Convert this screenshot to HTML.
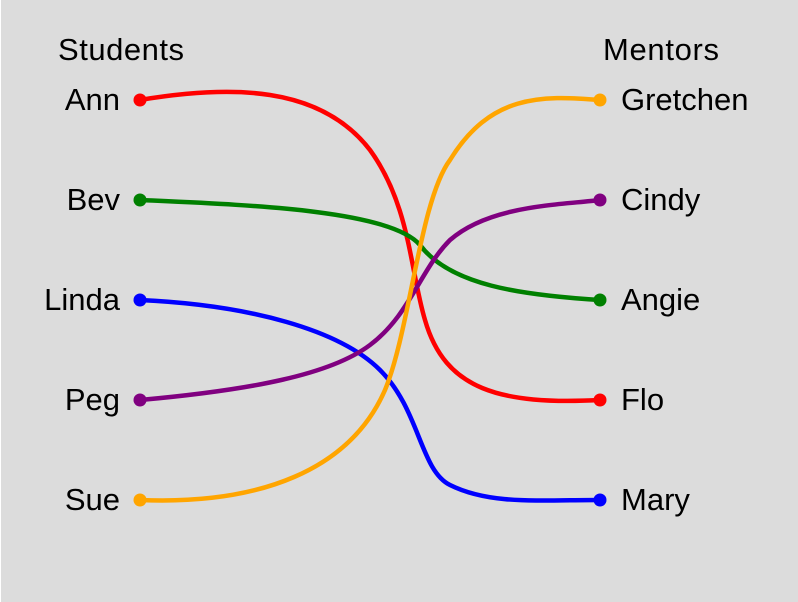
<!DOCTYPE html>
<html><head><style>
html,body{margin:0;padding:0;background:#fff;}
svg{display:block;}
text{font-family:"Liberation Sans",sans-serif;font-size:31px;fill:#000;}
</style></head><body>
<svg width="798" height="602" viewBox="0 0 798 602">
<rect x="1" y="0" width="797" height="602" fill="#dcdcdc"/>
<text x="58" y="60" textLength="126">Students</text>
<text x="603" y="60" textLength="116">Mentors</text>
<g text-anchor="end">
<text x="120" y="110">Ann</text>
<text x="120" y="210">Bev</text>
<text x="120" y="310">Linda</text>
<text x="120" y="410">Peg</text>
<text x="120" y="510">Sue</text>
</g>
<text x="621" y="110">Gretchen</text>
<text x="621" y="210">Cindy</text>
<text x="621" y="310">Angie</text>
<text x="621" y="410">Flo</text>
<text x="621" y="510">Mary</text>
<g fill="none" stroke-width="4.5">
<path d="M140,100 C230,85 320,85 370,150 C410,205 410,270 425,320 C445,390 500,405 600,400" stroke="red"/>
<path d="M140,200 C250,205 390,210 420,245 C450,285 520,295 600,300" stroke="green"/>
<path d="M140,300 C250,305 340,330 380,370 C420,410 420,470 450,485 C490,505 540,500 600,500" stroke="blue"/>
<path d="M140,400 C250,390 330,375 370,345 C410,315 420,270 450,240 C490,205 560,205 600,200" stroke="purple"/>
<path d="M140,500 C260,505 350,470 385,390 C410,330 420,200 450,160 C490,95 540,95 600,100" stroke="orange"/>
</g>
<circle cx="140" cy="100" r="6.5" fill="red"/>
<circle cx="140" cy="200" r="6.5" fill="green"/>
<circle cx="140" cy="300" r="6.5" fill="blue"/>
<circle cx="140" cy="400" r="6.5" fill="purple"/>
<circle cx="140" cy="500" r="6.5" fill="orange"/>
<circle cx="600" cy="100" r="6.5" fill="orange"/>
<circle cx="600" cy="200" r="6.5" fill="purple"/>
<circle cx="600" cy="300" r="6.5" fill="green"/>
<circle cx="600" cy="400" r="6.5" fill="red"/>
<circle cx="600" cy="500" r="6.5" fill="blue"/>
</svg>
</body></html>
